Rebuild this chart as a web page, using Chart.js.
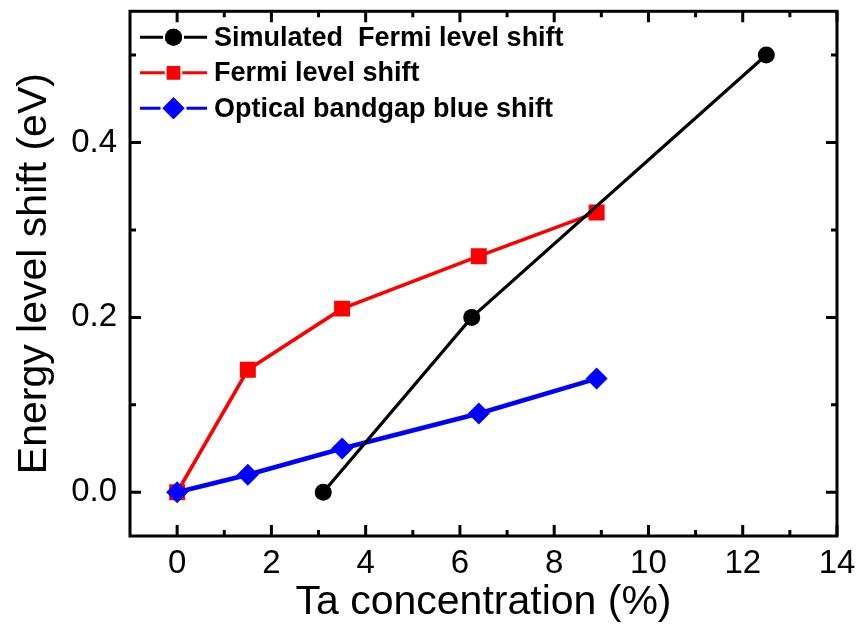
<!DOCTYPE html>
<html>
<head>
<meta charset="utf-8">
<script src="https://cdn.jsdelivr.net/npm/chart.js@4.4.1/dist/chart.umd.min.js"></script>
<style>
  body { margin: 0; background: #fff; }
  #wrap { width: 858px; height: 629px; }
</style>
</head>
<body>
<div id="wrap"><canvas id="shiftCanvas"></canvas></div>
<script>
  // Ta concentration (%) for each series
  const simulatedX = [3.1, 6.25, 12.5];
  const fermiX = [0, 1.5, 3.5, 6.4, 8.9];
  const opticalX = [0, 1.5, 3.5, 6.4, 8.9];

  // Energy level shift (eV)
  const simulatedY = [0, 0.2, 0.5];
  const fermiY = [0, 0.14, 0.21, 0.27, 0.32];
  const opticalY = [0, 0.02, 0.05, 0.09, 0.13];

  // Axis ticks
  const xMajorTicks = [0, 2, 4, 6, 8, 10, 12, 14];
  const xMinorTicks = [1, 3, 5, 7, 9, 11, 13];
  const yMajorTicks = [0, 0.2, 0.4];
  const yMinorTicks = [0.1, 0.3, 0.5];

  const seriesNames = ["Simulated  Fermi level shift", "Fermi level shift", "Optical bandgap blue shift"];

  const FONT = "'Liberation Sans', Arial, sans-serif";

  const toPoints = (xs, ys) => xs.map((x, i) => ({ x: x, y: ys[i] }));

  const datasets = [
    {
      label: seriesNames[0],
      data: toPoints(simulatedX, simulatedY),
      borderColor: "#000000",
      backgroundColor: "#000000",
      borderWidth: 3.2,
      pointStyle: "circle",
      pointRadius: 8.5,
      pointBorderWidth: 0,
      order: 0
    },
    {
      label: seriesNames[1],
      data: toPoints(fermiX, fermiY),
      borderColor: "#ff0000",
      backgroundColor: "#ff0000",
      borderWidth: 3.6,
      pointStyle: "rect",
      pointRadius: 11.3,
      pointBorderWidth: 0,
      order: 2
    },
    {
      label: seriesNames[2],
      data: toPoints(opticalX, opticalY),
      borderColor: "#0000ff",
      backgroundColor: "#0000ff",
      borderWidth: 4.6,
      pointStyle: "rectRot",
      pointRadius: 11,
      pointBorderWidth: 0,
      order: 1
    }
  ];

  // Closed frame with inward ticks on all four sides
  const framePlugin = {
    id: "frame",
    afterDraw(chart) {
      const { ctx, chartArea: a, scales } = chart;
      ctx.save();
      ctx.strokeStyle = "#000";
      ctx.lineWidth = 3;
      ctx.lineCap = "butt";
      ctx.strokeRect(a.left, a.top, a.right - a.left, a.bottom - a.top);

      const xTick = (v, len) => {
        const px = scales.x.getPixelForValue(v);
        ctx.beginPath();
        ctx.moveTo(px, a.bottom); ctx.lineTo(px, a.bottom - len);
        ctx.moveTo(px, a.top); ctx.lineTo(px, a.top + len);
        ctx.stroke();
      };
      const yTick = (v, len) => {
        const py = scales.y.getPixelForValue(v);
        ctx.beginPath();
        ctx.moveTo(a.left, py); ctx.lineTo(a.left + len, py);
        ctx.moveTo(a.right, py); ctx.lineTo(a.right - len, py);
        ctx.stroke();
      };
      xMajorTicks.forEach(v => xTick(v, 11));
      xMinorTicks.forEach(v => xTick(v, 6));
      yMajorTicks.forEach(v => yTick(v, 11));
      yMinorTicks.forEach(v => yTick(v, 6));
      ctx.restore();
    }
  };

  // Legend drawn inside the plot: line with marker, then bold label
  const insideLegend = {
    id: "insideLegend",
    afterDraw(chart) {
      const { ctx, chartArea: a } = chart;
      ctx.save();
      ctx.font = "bold 27px " + FONT;
      ctx.textBaseline = "middle";
      ctx.textAlign = "left";
      chart.data.datasets.forEach((ds, i) => {
        const y = a.top + 26 + i * 35.5;
        const x0 = a.left + 10;
        const x1 = a.left + 77;
        const xm = (x0 + x1) / 2;
        const r = ds.pointStyle === "rect" ? 9.5 : ds.pointRadius;
        const half = ds.pointStyle === "rect" ? r * Math.SQRT1_2 : r;
        ctx.strokeStyle = ds.borderColor;
        ctx.lineWidth = 3;
        ctx.beginPath();
        ctx.moveTo(x0, y);
        ctx.lineTo(xm - half - 2, y);
        ctx.moveTo(xm + half + 2, y);
        ctx.lineTo(x1, y);
        ctx.stroke();
        ctx.fillStyle = ds.backgroundColor;
        Chart.helpers.drawPoint(ctx, {
          pointStyle: ds.pointStyle,
          radius: r,
          borderWidth: 0,
          rotation: 0
        }, xm, y);
        ctx.fill();
        ctx.fillStyle = "#000";
        ctx.fillText(ds.label, a.left + 84, y + 1);
      });
      ctx.restore();
    }
  };

  const shiftCanvas = document.getElementById("shiftCanvas");

  const shiftChart = new Chart(shiftCanvas, {
    type: "scatter",
    data: { datasets: datasets },
    options: {
      responsive: true,
      maintainAspectRatio: false,
      animation: false,
      showLine: true,
      layout: { padding: { left: 0, right: 21, top: 9, bottom: 0 } },
      plugins: {
        legend: { display: false },
        tooltip: { enabled: false }
      },
      scales: {
        x: {
          type: "linear",
          min: -1,
          max: 14,
          afterBuildTicks: scale => { scale.ticks = xMajorTicks.map(v => ({ value: v })); },
          afterFit: scale => {
            scale.height = 93;
            scale.paddingLeft = 0;
            scale.paddingRight = 0;
          },
          grid: { display: false },
          border: { display: false },
          ticks: {
            color: "#000",
            font: { family: FONT, size: 33 },
            padding: 0,
            maxRotation: 0
          },
          title: {
            display: true,
            text: "Ta concentration (%)",
            color: "#000",
            font: { family: FONT, size: 41 },
            padding: { top: 0, bottom: 2 }
          }
        },
        y: {
          type: "linear",
          min: -0.05,
          max: 0.55,
          afterBuildTicks: scale => { scale.ticks = yMajorTicks.map(v => ({ value: v })); },
          afterFit: scale => {
            scale.width = 130;
            scale.paddingTop = 0;
            scale.paddingBottom = 0;
          },
          grid: { display: false },
          border: { display: false },
          ticks: {
            color: "#000",
            font: { family: FONT, size: 33 },
            padding: 5,
            callback: v => v.toFixed(1)
          },
          title: {
            display: true,
            text: "Energy level shift (eV)",
            color: "#000",
            font: { family: FONT, size: 41 },
            padding: { top: 10, bottom: 0 }
          }
        }
      }
    },
    plugins: [framePlugin, insideLegend]
  });
</script>
</body>
</html>
